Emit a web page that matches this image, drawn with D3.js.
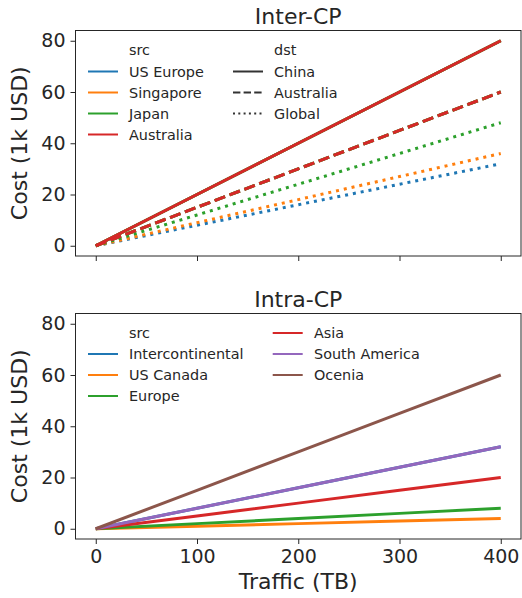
<!DOCTYPE html>
<html>
<head>
<meta charset="utf-8">
<script src="https://cdn.jsdelivr.net/npm/d3@7"></script>
<style>
  body { margin: 0; background: #fff; }
  text { font-family: "DejaVu Sans", sans-serif; fill: #262626; }
</style>
</head>
<body>
<div id="chart"></div>
<script>
var width = 522,
  height = 598;

// traffic (TB) sampled along the x axis
var traffic = [0, 100, 200, 300, 400];

// Inter-CP: src -> dst cost (1k USD)
var interSrc = ["US Europe", "Singapore", "Japan", "Australia"];
var interDst = ["China", "Australia", "Global"];
var usEurope = [[0, 20, 40, 60, 80], [0, 15, 30, 45, 60], [0, 8, 16, 24, 32]];
var singapore = [[0, 20, 40, 60, 80], [0, 15, 30, 45, 60], [0, 9, 18, 27, 36]];
var japan = [[0, 20, 40, 60, 80], [0, 15, 30, 45, 60], [0, 12, 24, 36, 48]];
var australia = [[0, 20, 40, 60, 80], [0, 15, 30, 45, 60], null];
var interCost = [usEurope, singapore, japan, australia];

// Intra-CP
var intraSrc = ["Intercontinental", "US Canada", "Europe", "Asia", "South America", "Ocenia"];
var intraCost = [
  [0, 8, 16, 24, 32],
  [0, 1, 2, 3, 4],
  [0, 2, 4, 6, 8],
  [0, 5, 10, 15, 20],
  [0, 8, 16, 24, 32],
  [0, 15, 30, 45, 60]
];

var yTicks = [0, 20, 40, 60, 80];
var xTicks = [0, 100, 200, 300, 400];

var palette = ["#1f77b4", "#ff7f0e", "#2ca02c", "#d62728", "#9467bd", "#8c564b"];

var svg = d3.select("#chart")
  .append("svg")
  .attr("width", width)
  .attr("height", height);

var x = d3.scaleLinear().domain([-20, 420]).range([75.5, 521]);

var lw = 3;
function dashFor(dst, w) {
  if (dst == 1) return [3.7 * w, 1.6 * w].join(",");
  if (dst == 2) return [1 * w, 1.65 * w].join(",");
  return null;
}

function panel(top, bottom, title, showX) {
  var y = d3.scaleLinear().domain([-4, 84]).range([bottom, top]);
  var g = svg.append("g");

  var ya = g.append("g")
    .attr("transform", "translate(75.5,0)")
    .call(d3.axisLeft(y).tickValues(yTicks).tickSize(5).tickPadding(5));
  var xa = g.append("g")
    .attr("transform", "translate(0," + bottom + ")")
    .call(d3.axisBottom(x).tickValues(xTicks).tickSize(5).tickPadding(6));
  if (!showX) xa.selectAll("text").remove();
  g.selectAll(".domain").remove();
  g.selectAll(".tick line").attr("stroke", "#262626").attr("stroke-width", 1);
  g.selectAll(".tick text").attr("font-size", 19).style("font-family", "DejaVu Sans");

  g.append("rect")
    .attr("x", 75.5).attr("y", top)
    .attr("width", 521 - 75.5).attr("height", bottom - top)
    .attr("fill", "none").attr("stroke", "#262626").attr("stroke-width", 1);

  g.append("text")
    .attr("x", (75.5 + 521) / 2).attr("y", top - 7)
    .attr("text-anchor", "middle").attr("font-size", 22)
    .text(title);

  g.append("text")
    .attr("transform", "translate(27," + (top + bottom) / 2 + ") rotate(-90)")
    .attr("text-anchor", "middle").attr("font-size", 22)
    .text("Cost (1k USD)");

  return { g: g, y: y };
}

var p1 = panel(30.5, 256, "Inter-CP", false);
var p2 = panel(313.5, 539, "Intra-CP", true);

// x label
svg.append("text")
  .attr("x", (75.5 + 521) / 2).attr("y", 589)
  .attr("text-anchor", "middle").attr("font-size", 22)
  .text("Traffic (TB)");

// inter lines, drawn src by src so later colours sit on top
interSrc.forEach(function (s, i) {
  interCost[i].forEach(function (vals, j) {
    if (!vals) return;
    var line = d3.line()
      .x(function (d, k) { return x(traffic[k]); })
      .y(function (d) { return p1.y(d); });
    p1.g.append("path")
      .datum(vals)
      .attr("d", line)
      .attr("fill", "none")
      .attr("stroke", palette[i])
      .attr("stroke-width", lw)
      .attr("stroke-dasharray", dashFor(j, lw));
  });
});

intraSrc.forEach(function (s, i) {
  var line = d3.line()
    .x(function (d, k) { return x(traffic[k]); })
    .y(function (d) { return p2.y(d); });
  p2.g.append("path")
    .datum(intraCost[i])
    .attr("d", line)
    .attr("fill", "none")
    .attr("stroke", palette[i])
    .attr("stroke-width", lw);
});

// legends
function legendEntry(g, hx, tx, base, label, color, dash) {
  if (color) {
    g.append("line")
      .attr("x1", hx).attr("x2", hx + 30)
      .attr("y1", base - 5).attr("y2", base - 5)
      .attr("stroke", color).attr("stroke-width", 2)
      .attr("stroke-dasharray", dash);
  }
  g.append("text")
    .attr("x", tx).attr("y", base)
    .attr("font-size", 14.4)
    .text(label);
}

var l1 = svg.append("g");
legendEntry(l1, 88, 129, 55, "src", null);
interSrc.forEach(function (s, i) {
  legendEntry(l1, 88, 129, 76.5 + 21 * i, s, palette[i], null);
});
legendEntry(l1, 233, 274, 55, "dst", null);
interDst.forEach(function (s, j) {
  legendEntry(l1, 233, 274, 76.5 + 21 * j, s, "#333333", dashFor(j, 2));
});

var l2 = svg.append("g");
var rows2 = ["src"].concat(intraSrc);
rows2.forEach(function (s, i) {
  var col = i < 4 ? 0 : 1;
  var row = i < 4 ? i : i - 4;
  var hx = col == 0 ? 88 : 272.7;
  var tx = col == 0 ? 129 : 314;
  legendEntry(l2, hx, tx, 338 + 21 * row, s, i == 0 ? null : palette[i - 1], null);
});
</script>
</body>
</html>
